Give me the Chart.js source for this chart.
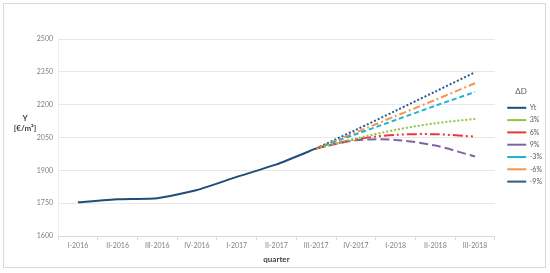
<!DOCTYPE html>
<html>
<head>
<meta charset="utf-8">
<script src="https://cdn.jsdelivr.net/npm/chart.js@4"></script>
<style>
  body { margin: 0; background: #fff; }
  #frame { position: absolute; left: 3px; top: 3px; width: 541px; height: 263px; border: 1px solid #d9d9d9; }
  canvas { display: block; }
</style>
</head>
<body>
<div id="frame"><canvas id="chart" width="541" height="263"></canvas></div>
<script>
// quarters on the x axis
const quarters = ["I-2016", "II-2016", "III-2016", "IV-2016", "I-2017", "II-2017",
  "III-2017", "IV-2017", "I-2018", "II-2018", "III-2018"];

// observed price Yt
const yt = [1754, 1768, 1773, 1810, 1870, 1927, 2000, null, null, null, null];

// forecasts for each change of ΔD
const plus3 = [null, null, null, null, null, null, 2000, 2045, 2085, 2115, 2135];
const plus6 = [null, null, null, null, null, null, 2000, 2042, 2062, 2065, 2054];
const plus9 = [null, null, null, null, null, null, 2000, 2037, 2039, 2013, 1963];
const minus3 = [null, null, null, null, null, null, 2000, 2065, 2130, 2195, 2258];
const minus6 = [null, null, null, null, null, null, 2000, 2073, 2148, 2222, 2298];
const minus9 = [null, null, null, null, null, null, 2000, 2085, 2172, 2260, 2348];

const yTicks = [1600, 1750, 1900, 2050, 2200, 2350, 2500];

const mkLine = (label, data, color, dash, tension) => ({
  label: label,
  data: data,
  borderColor: color,
  backgroundColor: color,
  borderWidth: 2,
  borderDash: dash,
  pointRadius: 0,
  tension: tension,
  spanGaps: false
});

// horizontal y title and the legend heading, drawn by hand
const extraText = {
  id: "extraText",
  afterLayout(chart) {
    // move legend to where the original one sits
    chart.legend.left += 7;
    chart.legend.right += 7;
    chart.legend.top += 60;
    chart.legend.bottom += 60;
  },
  afterDraw(chart) {
    const ctx = chart.ctx;
    ctx.save();
    ctx.textAlign = "center";
    ctx.textBaseline = "middle";
    ctx.font = "bold 8px Lato";
    ctx.fillStyle = "#404040";
    ctx.fillText("Y", 21, 114);
    ctx.fillText("[€/m²]", 21, 124);
    ctx.font = "8px Lato";
    ctx.fillStyle = "#595959";
    ctx.fillText("ΔD", 517, 87);
    ctx.restore();
  }
};

const ctx = document.getElementById("chart").getContext("2d");

new Chart(ctx, {
  type: "line",
  data: {
    labels: quarters,
    datasets: [
      mkLine("Yt", yt, "#1f4e79", [], 0.15),
      mkLine("3%", plus3, "#8cc63f", [2, 2], 0.3),
      mkLine("6%", plus6, "#e8383d", [10, 3, 2, 3, 2, 3], 0.3),
      mkLine("9%", plus9, "#8064a2", [9, 4], 0.3),
      mkLine("-3%", minus3, "#1fb3d6", [5, 3], 0.3),
      mkLine("-6%", minus6, "#f79646", [7, 3, 2, 3], 0.3),
      mkLine("-9%", minus9, "#2a5b8c", [2, 2], 0.3)
    ]
  },
  options: {
    responsive: false,
    animation: false,
    layout: { padding: { top: 35, right: 0, bottom: 0, left: 0 } },
    plugins: {
      tooltip: { enabled: false },
      legend: {
        position: "right",
        align: "start",
        labels: {
          usePointStyle: true,
          pointStyle: "line",
          pointStyleWidth: 19,
          boxHeight: 7,
          padding: 5.3,
          color: "#595959",
          font: { family: "Lato", size: 7 }
        }
      }
    },
    scales: {
      x: {
        offset: true,
        grid: { display: true, drawOnChartArea: false, offset: true, tickLength: 4, color: "#d9d9d9" },
        border: { color: "#d9d9d9" },
        ticks: { color: "#808080", font: { family: "Lato", size: 7 }, padding: 2, maxRotation: 0, autoSkip: false },
        title: {
          display: true,
          text: "quarter",
          color: "#404040",
          font: { family: "Lato", size: 8, weight: "bold" },
          padding: { top: 0, bottom: 3 }
        },
        afterFit(scale) { scale.height = 31; }
      },
      y: {
        min: 1600,
        max: 2500,
        afterBuildTicks(scale) { scale.ticks = yTicks.map(v => ({ value: v })); },
        grid: { color: "#e8e8e8", drawTicks: false },
        border: { display: true, color: "#f0f0e4" },
        ticks: {
          color: "#808080",
          font: { family: "Lato", size: 7 },
          padding: 5,
          callback: (v) => String(v)
        },
        afterFit(scale) { scale.width = 54; }
      }
    }
  },
  plugins: [extraText]
});
</script>
</body>
</html>
